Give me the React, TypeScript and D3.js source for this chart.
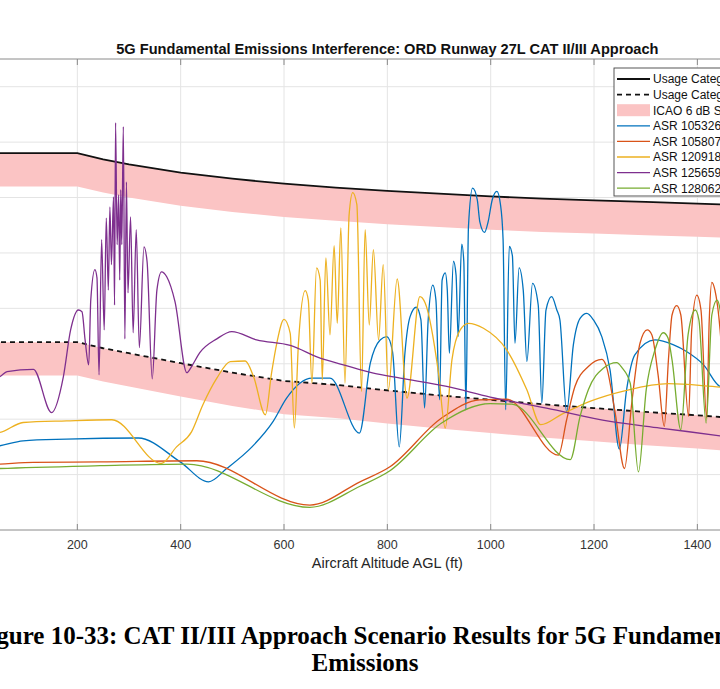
import React, { useRef, useEffect } from "react";
import * as d3 from "d3";

type Pt = [number, number];

// axis ticks (y tick labels are cropped out of the reference)
const xTicks = [0, 200, 400, 600, 800, 1000, 1200, 1400, 1600];
const yTicks = [-110, -100, -90, -80, -70, -60, -50, -40];

// thresholds (dB) vs altitude (ft)
const usageCat1: Pt[] = [
  [0, -52], [200, -52], [250, -53.1], [300, -54.0], [400, -55.5], [500, -56.6],
  [600, -57.5], [700, -58.2], [800, -58.8], [900, -59.3], [1000, -59.8],
  [1100, -60.2], [1200, -60.5], [1300, -60.8], [1400, -61.1], [1500, -61.4], [1600, -61.6],
];
const usageCat2: Pt[] = [
  [0, -86.1], [200, -86.1], [250, -87.2], [300, -88.1], [400, -89.9], [500, -91.6],
  [600, -93.1], [700, -93.8], [800, -94.8], [900, -95.7], [1000, -96.5],
  [1100, -97.3], [1200, -98.0], [1300, -98.7], [1400, -99.3], [1500, -100.0], [1600, -100.6],
];
const icaoMargin = 6;

const asr105326: Pt[] = [
  [0, -105.5], [50, -104.8], [95, -103.9], [179, -103.6], [318, -103.4], [399, -107.7],
  [454, -111.3], [489, -108.9], [538, -105.0], [579, -100.4], [605, -96.2], [654, -92.6],
  [689, -92.6], [746, -102.5], [767, -89.9], [786, -85.7], [799, -85.1], [810, -87.8],
  [823, -105.0], [834, -88.1], [844, -81.5], [856, -79.8], [865, -82.1], [872, -98.0],
  [879, -82.1], [888, -75.8], [894, -78.5], [901, -96.5], [906, -74.9], [912, -73.6],
  [916, -76.7], [920, -88.1], [928, -71.5], [933, -74.0], [937, -85.1], [944, -68.4],
  [948, -71.6], [952, -98.3], [957, -65.2], [965, -58.3], [974, -60.4], [979, -64.4],
  [988, -66.3], [995, -64.4], [1003, -60.4], [1012, -58.9], [1019, -61.3], [1024, -67.6],
  [1029, -98.3], [1036, -68.8], [1042, -70.5], [1047, -86.3], [1055, -72.7], [1063, -76.7],
  [1070, -89.6], [1081, -75.5], [1092, -79.4], [1099, -97.1], [1107, -80.3], [1118, -77.9],
  [1128, -80.3], [1134, -82.1], [1147, -98.7], [1160, -86.6], [1173, -81.8], [1186, -80.9],
  [1199, -82.1], [1215, -85.1], [1231, -91.1], [1249, -105.4], [1263, -94.7], [1279, -88.4],
  [1318, -85.7], [1354, -86.6], [1379, -87.8], [1412, -90.2], [1444, -94.1], [1600, -97],
];
const asr105807: Pt[] = [
  [0, -108.3], [50, -108.1], [115, -107.8], [244, -107.7], [431, -107.5], [650, -115.5],
  [747, -111.3], [805, -108.6], [905, -99.8], [979, -96.5], [1031, -96.4], [1131, -106.5],
  [1147, -100.1], [1163, -94.1], [1189, -90.5], [1215, -89.2], [1223, -90.2], [1241, -98.9],
  [1259, -108.9], [1273, -97.1], [1289, -86.3], [1303, -83.9], [1312, -84.8], [1324, -92.0],
  [1336, -101.3], [1344, -89.3], [1351, -81.2], [1360, -79.5], [1368, -81.2], [1383, -99.5],
  [1389, -83.9], [1399, -77.6], [1407, -80.3], [1418, -99.8], [1423, -82.1], [1428, -75.3],
  [1434, -76.7], [1444, -83.9], [1452, -95],
];
const asr120918: Pt[] = [
  [0, -102.8], [50, -102.4], [95, -100.6], [179, -100.3], [267, -100.1], [362, -108.0],
  [392, -105.0], [421, -102.3], [443, -97.4], [470, -92.6], [496, -89.6], [525, -89.5],
  [541, -92.3], [564, -99.2], [576, -91.6], [586, -86.3], [600, -82.0], [612, -84.5],
  [620, -101.6], [628, -86.2], [641, -76.8], [647, -78.5], [654, -93.5], [663, -72.7],
  [670, -74.9], [674, -92.9], [681, -70.9], [689, -84.8], [697, -68.7], [703, -82.7],
  [710, -65.5], [718, -93.5], [726, -63.1], [733, -59.1], [741, -61.3], [750, -95.0],
  [757, -65.8], [765, -83.0], [773, -69.4], [783, -85.7], [792, -72.1], [802, -94.7],
  [819, -74.7], [838, -96.2], [863, -77.9], [873, -79.0], [899, -91.7], [912, -101.6],
  [925, -89.3], [941, -83.9], [957, -82.7], [986, -83.6], [1031, -87.5], [1070, -94.7],
  [1097, -101.0], [1138, -99.1], [1192, -96.8], [1263, -94.8], [1344, -93.6], [1444, -94.2],
  [1600, -95],
];
const asr125659: Pt[] = [
  [0, -93.0], [50, -92.3], [64, -91.4], [115, -91.0], [150, -98.8], [173, -92.3],
  [187, -83.9], [202, -80.3], [209, -80.6], [215, -85.7], [222, -90.2], [226, -78.5],
  [234, -73.0], [238, -74.5], [242, -92.0], [247, -67.6], [252, -83.9], [256, -63.7],
  [260, -76.7], [263, -61.7], [266, -72.1], [270, -59.9], [272, -79.4], [274, -46.5],
  [277, -68.5], [280, -59.5], [282, -74.9], [284, -58.6], [286, -68.5], [289, -47.2],
  [292, -85.5], [295, -57.2], [298, -77.2], [303, -63.5], [308, -84.4], [314, -65.8],
  [320, -87.1], [329, -68.9], [335, -71.6], [345, -92.7], [354, -76.7], [363, -73.4],
  [373, -74.3], [389, -78.8], [412, -91.6], [421, -90.5], [437, -88.0], [470, -85.5],
  [499, -84.2], [547, -85.7], [612, -86.7], [670, -89.0], [715, -90.2], [773, -91.7],
  [825, -92.6], [915, -94.1], [999, -96.0], [1108, -98.0], [1231, -100.4], [1328, -101.6],
  [1444, -103.0], [1600, -105],
];
const asr128062: Pt[] = [
  [0, -109.1], [50, -108.9], [244, -108.4], [412, -108.1], [650, -115.9], [747, -112.1],
  [805, -109.3], [905, -100.7], [999, -97.2], [1041, -97.3], [1154, -107.3], [1173, -99.5],
  [1189, -94.7], [1218, -90.8], [1244, -89.8], [1254, -90.7], [1270, -93.5], [1286, -109.5],
  [1301, -94.7], [1318, -87.5], [1334, -84.4], [1343, -85.3], [1351, -89.3], [1368, -101.9],
  [1382, -84.8], [1396, -80.3], [1403, -82.1], [1417, -100.7], [1428, -81.2], [1438, -78.5],
  [1444, -80.3], [1452, -90],
];

const series = [
  { name: "ASR 105326", color: "#0072BD", data: asr105326 },
  { name: "ASR 105807", color: "#D95319", data: asr105807 },
  { name: "ASR 120918", color: "#EDB120", data: asr120918 },
  { name: "ASR 125659", color: "#7E2F8E", data: asr125659 },
  { name: "ASR 128062", color: "#77AC30", data: asr128062 },
];

const W = 720;
const H = 689;
const sans = "'Liberation Sans', Arial, Helvetica, sans-serif";
const serif = "'Liberation Serif', 'Times New Roman', serif";
const bandColor = "#fbc4c4";

const App: React.FC = () => {
  const ref = useRef<SVGSVGElement | null>(null);

  useEffect(() => {
    if (!ref.current) return;
    const svg = d3.select(ref.current);
    svg.selectAll("*").remove();

    const x = d3.scaleLinear().domain([0, 1600]).range([-26, 800.7]);
    const y = d3.scaleLinear().domain([-120, -35]).range([530, 59]);
    const [x0, x1] = x.range();
    const [yB, yT] = y.range();

    svg.append("defs")
      .append("clipPath")
      .attr("id", "plot-clip")
      .append("rect")
      .attr("x", x0)
      .attr("y", yT)
      .attr("width", x1 - x0)
      .attr("height", yB - yT);

    // grid
    const grid = svg.append("g").attr("stroke", "#e4e4e4").attr("stroke-width", 1);
    grid.selectAll(".gx")
      .data(xTicks.slice(1, -1))
      .join("line")
      .attr("x1", (d) => x(d)).attr("x2", (d) => x(d))
      .attr("y1", yT).attr("y2", yB);
    grid.selectAll(".gy")
      .data(yTicks)
      .join("line")
      .attr("x1", x0).attr("x2", x1)
      .attr("y1", (d) => y(d)).attr("y2", (d) => y(d));

    const plot = svg.append("g").attr("clip-path", "url(#plot-clip)");

    // ICAO 6 dB bands below each threshold
    const band = d3.area<Pt>()
      .x((d) => x(d[0]))
      .y0((d) => y(d[1] - icaoMargin))
      .y1((d) => y(d[1]));
    [usageCat1, usageCat2].forEach((t) => {
      plot.append("path").attr("d", band(t)).attr("fill", bandColor);
    });

    const straight = d3.line<Pt>().x((d) => x(d[0])).y((d) => y(d[1]));
    plot.append("path")
      .attr("d", straight(usageCat1))
      .attr("fill", "none")
      .attr("stroke", "#111")
      .attr("stroke-width", 1.8);
    plot.append("path")
      .attr("d", straight(usageCat2))
      .attr("fill", "none")
      .attr("stroke", "#111")
      .attr("stroke-width", 1.8)
      .attr("stroke-dasharray", "5,4");

    const smooth = d3.line<Pt>()
      .x((d) => x(d[0]))
      .y((d) => y(d[1]))
      .curve(d3.curveMonotoneX);
    series.forEach((s) => {
      plot.append("path")
        .attr("d", smooth(s.data))
        .attr("fill", "none")
        .attr("stroke", s.color)
        .attr("stroke-width", 1.3)
        .attr("stroke-linejoin", "round");
    });

    // axes box and ticks
    const axis = svg.append("g").attr("stroke", "#8a8a8a").attr("stroke-width", 1);
    axis.append("line").attr("x1", x0).attr("x2", x1).attr("y1", yT).attr("y2", yT);
    axis.append("line").attr("x1", x0).attr("x2", x1).attr("y1", yB).attr("y2", yB);
    axis.selectAll(".tt")
      .data(xTicks)
      .join("line")
      .attr("x1", (d) => x(d)).attr("x2", (d) => x(d))
      .attr("y1", yT).attr("y2", yT + 6);
    axis.selectAll(".tb")
      .data(xTicks)
      .join("line")
      .attr("x1", (d) => x(d)).attr("x2", (d) => x(d))
      .attr("y1", yB).attr("y2", yB - 6);

    // tick labels that fall inside the cropped view
    svg.append("g")
      .selectAll("text")
      .data(xTicks.filter((d) => x(d) > 10 && x(d) < W - 10))
      .join("text")
      .attr("x", (d) => x(d))
      .attr("y", yB + 19)
      .attr("text-anchor", "middle")
      .attr("font-family", sans)
      .attr("font-size", 12.5)
      .attr("fill", "#333")
      .text((d) => String(d));

    svg.append("text")
      .attr("x", (x0 + x1) / 2)
      .attr("y", 568)
      .attr("text-anchor", "middle")
      .attr("font-family", sans)
      .attr("font-size", 14.5)
      .attr("fill", "#262626")
      .text("Aircraft Altitude AGL (ft)");

    svg.append("text")
      .attr("x", (x0 + x1) / 2)
      .attr("y", 54)
      .attr("text-anchor", "middle")
      .attr("font-family", sans)
      .attr("font-weight", "bold")
      .attr("font-size", 14.6)
      .attr("fill", "#111")
      .text("5G Fundamental Emissions Interference: ORD Runway 27L CAT II/III Approach");

    // legend
    const lg = svg.append("g").attr("transform", "translate(614,68)");
    lg.append("rect")
      .attr("width", 200)
      .attr("height", 128)
      .attr("fill", "#fff")
      .attr("stroke", "#444")
      .attr("stroke-width", 0.9);
    const entries = [
      { label: "Usage Category 1 Threshold", kind: "solid", color: "#111" },
      { label: "Usage Category 2 Threshold", kind: "dash", color: "#111" },
      { label: "ICAO 6 dB Safety Margin", kind: "band", color: bandColor },
      ...series.map((s) => ({ label: s.name, kind: "line", color: s.color })),
    ];
    entries.forEach((e, i) => {
      const cy = 11 + i * 15.6;
      if (e.kind === "band") {
        lg.append("rect")
          .attr("x", 3).attr("y", cy - 6)
          .attr("width", 33).attr("height", 12)
          .attr("fill", e.color);
      } else {
        lg.append("line")
          .attr("x1", 3).attr("x2", 36)
          .attr("y1", cy).attr("y2", cy)
          .attr("stroke", e.color)
          .attr("stroke-width", e.kind === "line" ? 1.3 : 1.8)
          .attr("stroke-dasharray", e.kind === "dash" ? "5,4" : null);
      }
      lg.append("text")
        .attr("x", 39)
        .attr("y", cy + 4.3)
        .attr("font-family", sans)
        .attr("font-size", 12)
        .attr("fill", "#111")
        .text(e.label);
    });

    // figure caption
    const cap = svg.append("g")
      .attr("font-family", serif)
      .attr("font-weight", "bold")
      .attr("font-size", 25)
      .attr("text-anchor", "middle")
      .attr("fill", "#000");
    cap.append("text").attr("x", 365).attr("y", 644)
      .text("Figure 10-33: CAT II/III Approach Scenario Results for 5G Fundamental");
    cap.append("text").attr("x", 365).attr("y", 671).text("Emissions");
  }, []);

  return (
    <svg
      ref={ref}
      width={W}
      height={H}
      style={{ position: "absolute", left: 0, top: 0, background: "#fff" }}
    />
  );
};

export default App;
